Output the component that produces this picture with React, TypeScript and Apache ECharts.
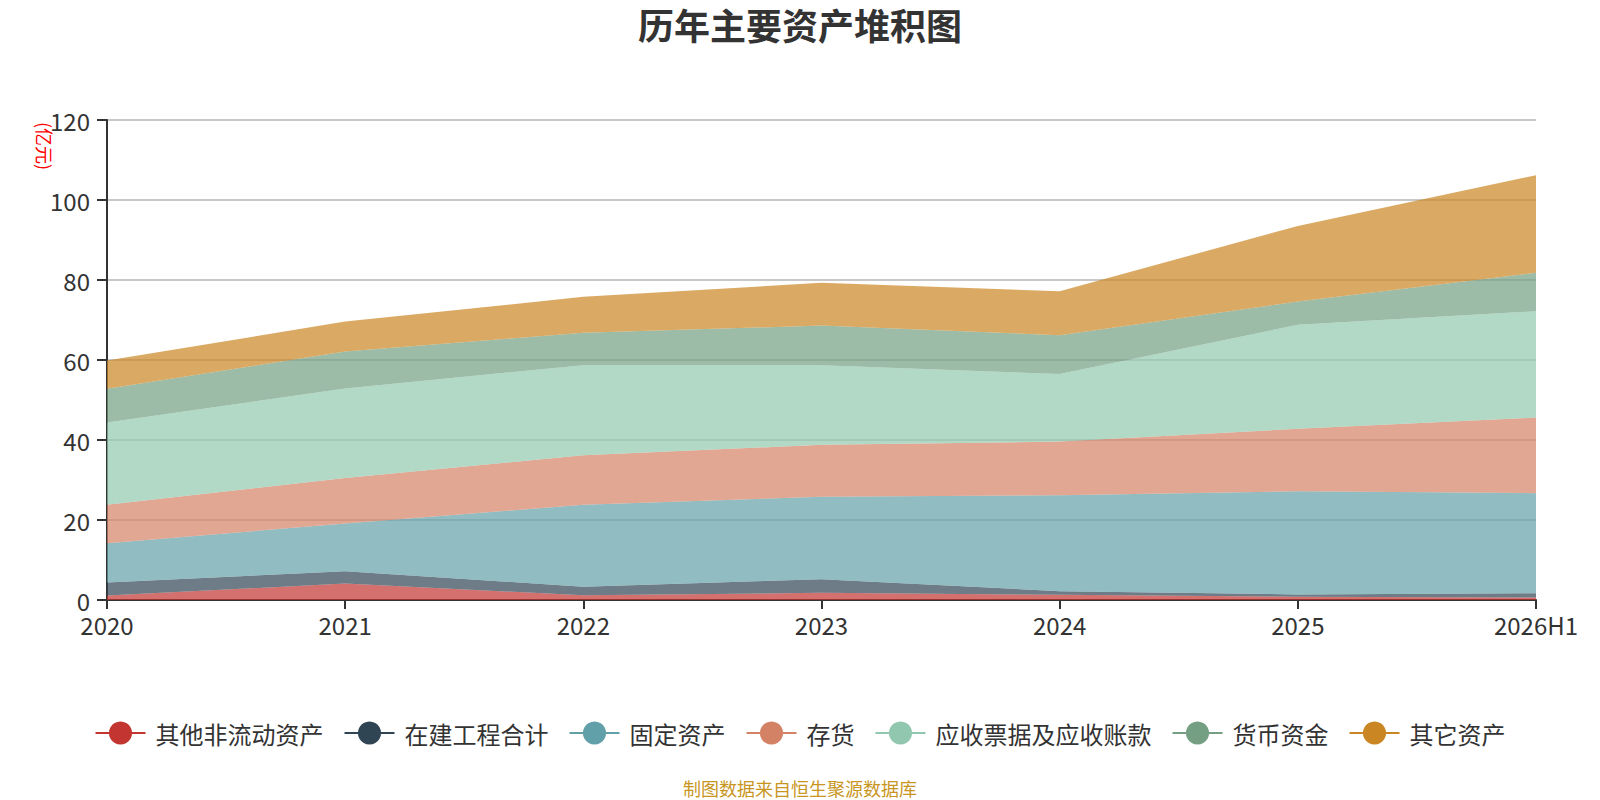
import React, { useEffect, useRef } from "react";
import * as echarts from "echarts";

const categories = ["2020", "2021", "2022", "2023", "2024", "2025", "2026H1"];
const seriesNames = ["其他非流动资产", "在建工程合计", "固定资产", "存货", "应收票据及应收账款", "货币资金", "其它资产"];
const otherNonCurrent = [1.1, 4.1, 1.2, 1.8, 1.3, 0.8, 0.6];
const constructionInProgress = [3.3, 3.1, 2.1, 3.4, 0.9, 0.6, 1.1];
const fixedAssets = [9.8, 11.9, 20.5, 20.6, 24.0, 25.8, 25.0];
const inventory = [9.6, 11.4, 12.4, 13.0, 13.4, 15.6, 18.9];
const receivables = [20.6, 22.4, 22.5, 19.9, 16.9, 26.0, 26.6];
const cash = [8.4, 9.2, 8.1, 9.9, 9.7, 5.8, 9.6];
const otherAssets = [7.1, 7.5, 9.0, 10.7, 11.0, 18.9, 24.4];
const seriesValues = [otherNonCurrent, constructionInProgress, fixedAssets, inventory, receivables, cash, otherAssets];
const colors = ["#c23531", "#2f4554", "#61a0a8", "#d48265", "#91c7ae", "#749f83", "#ca8622"];

const FONT = "'Noto Sans CJK SC', 'Noto Sans', sans-serif";

export default function App() {
  const ref = useRef<HTMLDivElement>(null);
  useEffect(() => {
    document.body.style.margin = "0";
    if (!ref.current) return;
    const chart = echarts.init(ref.current, undefined, { renderer: "svg" });
    chart.setOption({
      animation: false,
      color: colors,
      textStyle: { fontFamily: FONT },
      title: [
        {
          text: "历年主要资产堆积图",
          left: "center",
          top: 1,
          textStyle: { fontSize: 36, fontWeight: "bold", color: "#333", fontFamily: FONT },
        },
        {
          text: "制图数据来自恒生聚源数据库",
          left: "center",
          top: 779,
          padding: 0,
          textStyle: { fontSize: 18, fontWeight: "normal", color: "#c8961e", fontFamily: FONT },
        },
      ],
      graphic: [
        {
          type: "text",
          x: 45,
          y: 146,
          rotation: -Math.PI / 2,
          style: {
            text: "(亿元)",
            fill: "#ff0000",
            fontSize: 18,
            fontFamily: FONT,
            textAlign: "center",
            textVerticalAlign: "middle",
          },
        },
      ],
      legend: {
        data: seriesNames,
        left: "center",
        top: 716,
        itemWidth: 50,
        itemHeight: 29,
        itemGap: 20,
        lineStyle: { width: 2 },
        textStyle: { fontSize: 24, color: "#333", fontFamily: FONT, padding: [0, 0, 0, 5] },
      },
      grid: { left: 107, right: 64, top: 120, bottom: 200, containLabel: false },
      xAxis: {
        type: "category",
        data: categories,
        boundaryGap: false,
        axisLine: { lineStyle: { color: "#333", width: 2 } },
        axisTick: { length: 9, lineStyle: { color: "#333", width: 2 } },
        axisLabel: { fontSize: 24, color: "#333", margin: 12, fontFamily: FONT },
      },
      yAxis: {
        type: "value",
        min: 0,
        max: 120,
        interval: 20,
        axisLine: { show: true, lineStyle: { color: "#333", width: 2 } },
        axisTick: { show: true, length: 10, lineStyle: { color: "#333", width: 2 } },
        axisLabel: { fontSize: 24, color: "#333", margin: 17, fontFamily: FONT },
        splitLine: { lineStyle: { color: "#c8c8c8", width: 2 } },
      },
      series: seriesNames.map((name, i) => ({
        name,
        type: "line",
        stack: "total",
        data: seriesValues[i],
        symbol: "circle",
        showSymbol: false,
        lineStyle: { width: 0 },
        areaStyle: { opacity: 0.7 },
        itemStyle: { color: colors[i] },
      })),
    });
    return () => chart.dispose();
  }, []);
  return <div ref={ref} style={{ width: 1600, height: 800 }} />;
}
